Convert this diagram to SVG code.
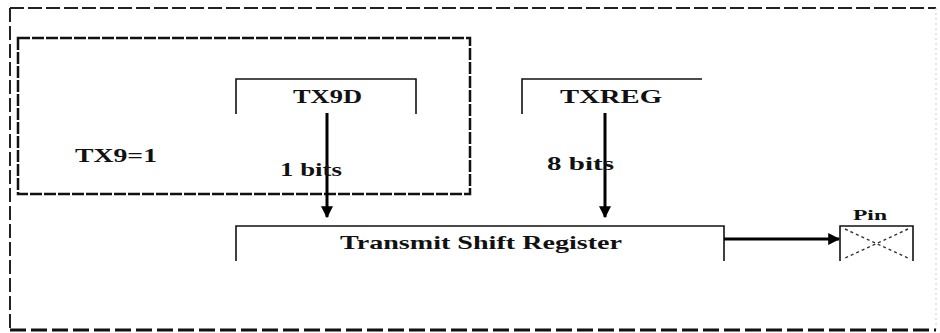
<svg xmlns="http://www.w3.org/2000/svg" width="940" height="333" viewBox="0 0 940 333">
<style>
.bg{fill:#fff}
.outer{fill:none;stroke:#222;stroke-width:2;stroke-dasharray:14 4}
.outerR{fill:none;stroke:#ccc;stroke-width:1;stroke-dasharray:2 3}
.outerB{fill:none;stroke:#111;stroke-width:3;stroke-dasharray:16 5}
.inner{fill:none;stroke:#111;stroke-width:2.5;stroke-dasharray:12 2}
.br{fill:none;stroke:#111;stroke-width:1.6}
.conn{fill:none;stroke:#000;stroke-width:3}
.x{fill:none;stroke:#333;stroke-width:1.4;stroke-dasharray:3 3}
.t{font-family:"Liberation Serif","DejaVu Serif",serif;font-size:19px;font-weight:bold;fill:#111}
</style>
<defs>
<marker id="ah" viewBox="0 0 10 10" refX="9" refY="5" markerWidth="4" markerHeight="4" orient="auto" markerUnits="strokeWidth">
<path d="M0,0 L10,5 L0,10 z" fill="#000"/>
</marker>
</defs>
<rect class="bg" x="0" y="0" width="940" height="333"/>
<g id="frame">
<line class="outer" x1="10" y1="8" x2="936" y2="8"/>
<line class="outer" x1="10" y1="8" x2="10" y2="330"/>
<line class="outerR" x1="936" y1="8" x2="936" y2="330"/>
<line class="outerB" x1="10" y1="330" x2="936" y2="330"/>
</g>
<g id="tx9-region">
<rect class="inner" x="18" y="38" width="452" height="156"/>
<text class="t" x="75" y="162" textLength="82" lengthAdjust="spacingAndGlyphs">TX9=1</text>
</g>
<g id="tx9d">
<path class="br" d="M236,114 V79 H416 V114"/>
<text class="t" x="293" y="103" textLength="69" lengthAdjust="spacingAndGlyphs">TX9D</text>
</g>
<g id="txreg">
<path class="br" d="M522,114 V79 H702"/>
<text class="t" x="560" y="103" textLength="102" lengthAdjust="spacingAndGlyphs">TXREG</text>
</g>
<g id="tsr">
<path class="br" d="M236,261 V226 H724 V261"/>
<text class="t" x="340" y="249" textLength="282" lengthAdjust="spacingAndGlyphs">Transmit Shift Register</text>
</g>
<g id="pin">
<path class="br" d="M840,261 V226 H913 V261"/>
<line class="x" x1="845" y1="229" x2="908" y2="258"/>
<line class="x" x1="908" y1="229" x2="845" y2="258"/>
<text class="t" x="853" y="220" textLength="34" lengthAdjust="spacingAndGlyphs" style="font-size:14px">Pin</text>
</g>
<g id="connectors">
<line class="conn" x1="327" y1="113" x2="327" y2="217" marker-end="url(#ah)"/>
<line class="conn" x1="605" y1="113" x2="605" y2="217" marker-end="url(#ah)"/>
<line class="conn" x1="724" y1="239" x2="839" y2="239" marker-end="url(#ah)"/>
<text class="t" x="280" y="176" textLength="62" lengthAdjust="spacingAndGlyphs">1 bits</text>
<text class="t" x="547" y="170" textLength="67" lengthAdjust="spacingAndGlyphs">8 bits</text>
</g>
</svg>
